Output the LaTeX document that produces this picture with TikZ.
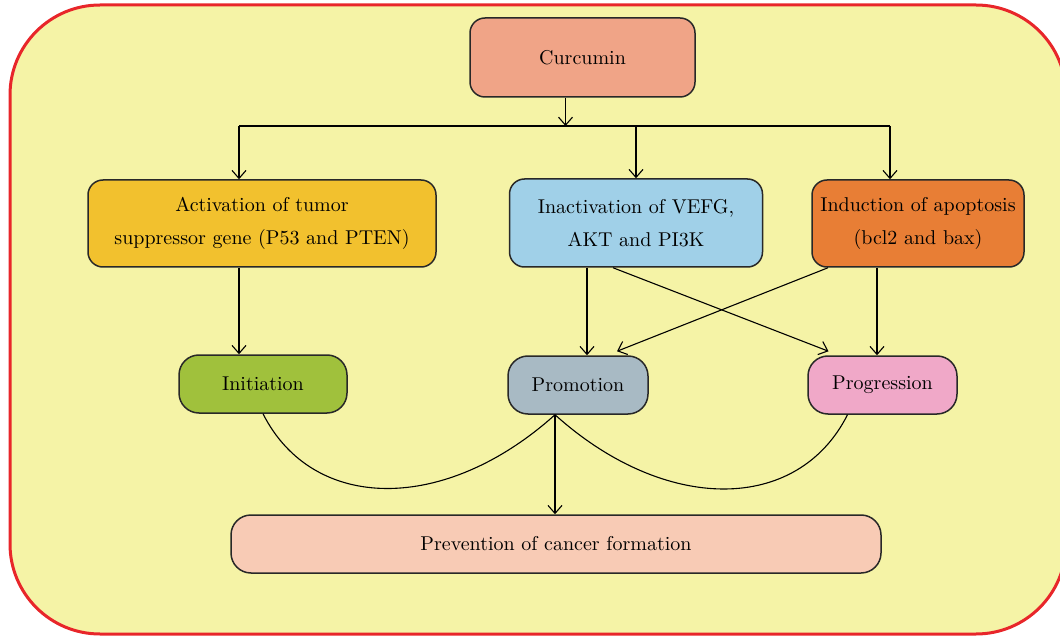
\documentclass[tikz,border=0pt]{standalone}
\usepackage{xcolor}
\usepackage{tikz}
\usetikzlibrary{arrows.meta}
\definecolor{bgyellow}{RGB}{245, 243, 166}
\definecolor{bgred}{RGB}{232, 38, 42}
\definecolor{salmon}{RGB}{240, 164, 135}
\definecolor{mustard}{RGB}{242, 193, 46}
\definecolor{skyblue}{RGB}{160, 208, 232}
\definecolor{deeporange}{RGB}{232, 126, 53}
\definecolor{leafgreen}{RGB}{160, 193, 60}
\definecolor{greyblue}{RGB}{168, 186, 196}
\definecolor{stagepink}{RGB}{240, 168, 200}
\definecolor{peach}{RGB}{248, 203, 181}
\definecolor{boxline}{RGB}{40, 40, 40}

\begin{document}
\begin{tikzpicture}[x=0.5pt, y=-0.5pt,
            box/.style = {draw=boxline, line width=0.75pt, text=black, rounded corners=7.5pt, align=center, inner sep=1pt, font=\linespread{1.4}\selectfont},
            stage/.style = {draw=boxline, line width=0.75pt, text=black, rounded corners=10pt, minimum height=29pt, inner sep=1pt},
            arr/.style = {-{Straight Barb[length=4pt,width=7pt]}, draw=black, line width=0.55pt},
            link/.style = {draw=black, line width=0.55pt}]
        \useasboundingbox (0,0) rectangle (1060,636);
        \clip (0,0) rectangle (1060,636);
        \draw[draw=bgred, line width=1.5pt, fill=bgyellow, rounded corners=45pt] (10,5) rectangle (1066,634);

        \node[box, fill=salmon, minimum width=112.5pt, minimum height=39.5pt] (cur) at (582.5,57.5) {Curcumin};
        \node[box, fill=mustard, minimum width=174pt, minimum height=43.5pt] (act) at (262,223.5) {Activation of tumor\\suppressor gene (P53 and PTEN)};
        \node[box, fill=skyblue, minimum width=126.5pt, minimum height=44pt] (inact) at (636,223) {Inactivation of VEFG,\\AKT and PI3K};
        \node[box, fill=deeporange, minimum width=106pt, minimum height=43.5pt] (apop) at (918,223.5) {Induction of apoptosis\\(bcl2 and bax)};

        \node[stage, fill=leafgreen, minimum width=84pt] (init) at (263,384) {Initiation};
        \node[stage, fill=greyblue, minimum width=70pt] (prom) at (578,385) {Promotion};
        \node[stage, fill=stagepink, minimum width=74.5pt] (prog) at (882.5,385) {Progression};
        \node[stage, fill=peach, minimum width=325pt] (prev) at (556,544) {Prevention of cancer formation};

        \coordinate (busL) at (239,126);
        \coordinate (busR) at (890,126);
        \coordinate (pb) at ([xshift=-11.5pt]prom.south);

        \draw[arr] ([xshift=-8.5pt]cur.south) -- ([xshift=-8.5pt]cur.south |- busL);
        \draw[link] (busL) -- (busR);
        \draw[arr] (busL) -- (busL |- act.north);
        \draw[arr] (busL -| inact.north) -- (inact.north);
        \draw[arr] (busR) -- (busR |- apop.north);

        \draw[arr] (busL |- act.south) -- (busL |- init.north);
        \draw[arr] ([xshift=-24.5pt]inact.south) -- ([xshift=-24.5pt]inact.south |- prom.north);
        \draw[arr] ([xshift=-11.5pt]inact.south) -- ([xshift=-27pt, yshift=2pt]prog.north);
        \draw[arr] ([xshift=-45pt]apop.south) -- ([xshift=19.5pt, yshift=2pt]prom.north);
        \draw[arr] ([xshift=-20.5pt]apop.south) -- ([xshift=-20.5pt]apop.south |- prog.north);

        \draw[link] (init.south) .. controls +(50,99) and +(-110,99) .. (pb); % stages merge
        \draw[link] (pb) .. controls +(110,99) and +(-50,99) .. ([xshift=-17.5pt]prog.south);
        \draw[arr] (pb) -- (pb |- prev.north);
        \end{tikzpicture}
\end{document}
